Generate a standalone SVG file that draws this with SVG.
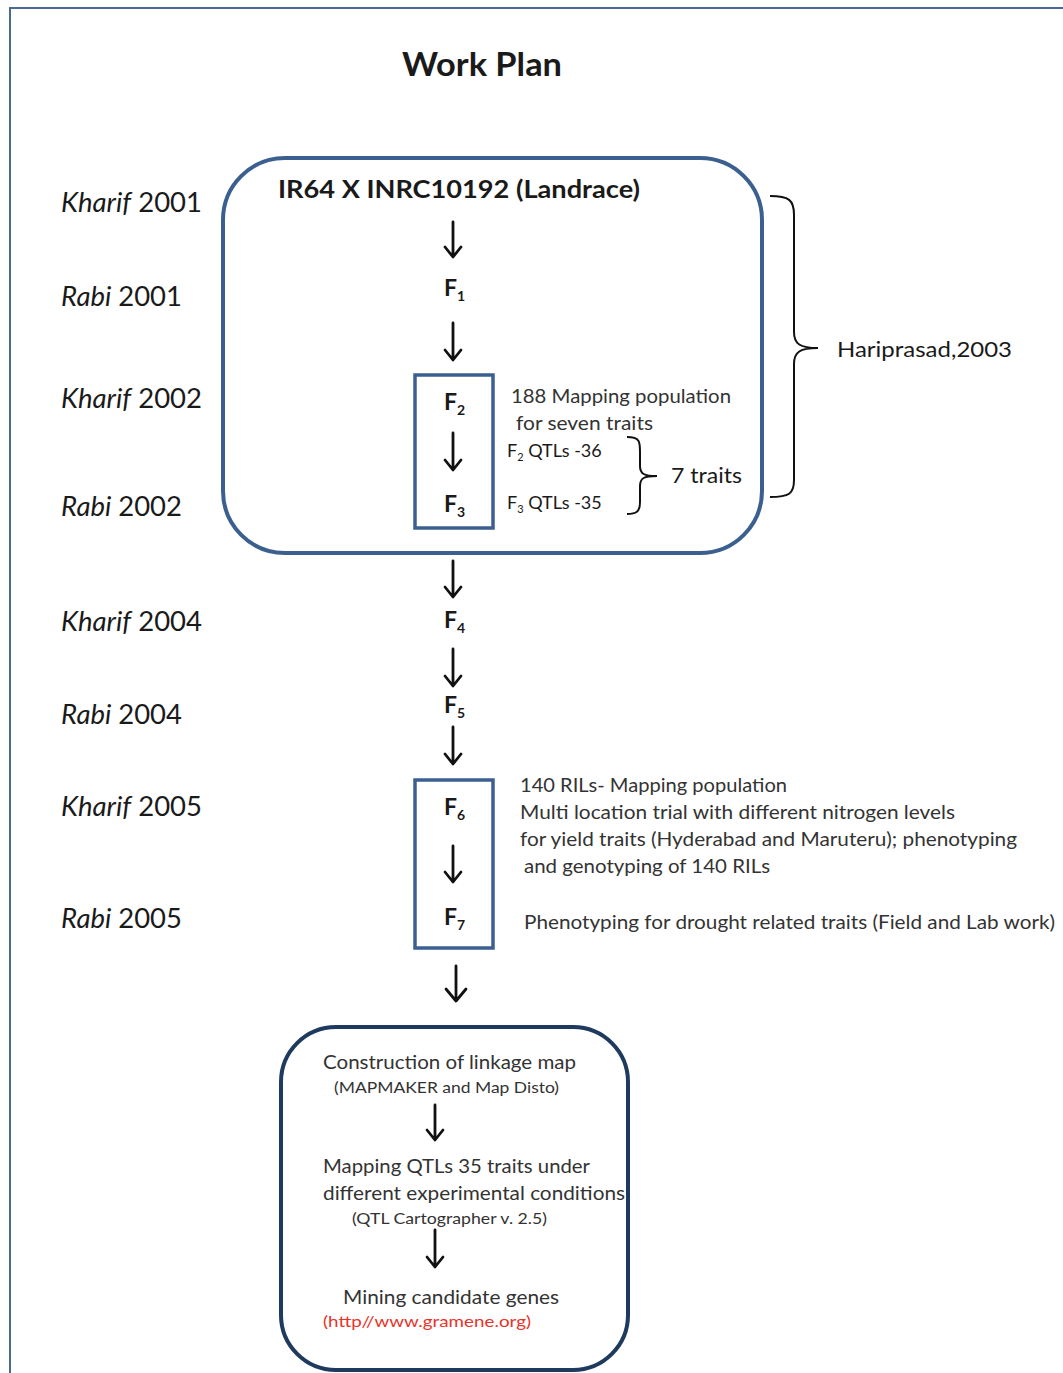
<svg xmlns="http://www.w3.org/2000/svg" width="1063" height="1373" viewBox="0 0 1063 1373">
<defs>
<style>
text{font-family:Lato,"Liberation Sans",sans-serif;fill:#1a1a1a}
.yr{font-size:27px}
.b{font-weight:bold}
.f{font-size:23px;font-weight:bold}
.s{font-size:20px;fill:#333}
.xs{font-size:16px;fill:#333}
.arr{fill:none;stroke:#111;stroke-width:2.8;stroke-linecap:round;stroke-linejoin:round}
.br{fill:none;stroke:#111;stroke-width:2}
.bx{fill:none;stroke:#3b6090;stroke-width:4}
</style>
</defs>
<rect width="1063" height="1373" fill="#fff"/>
<path d="M10 1373 V8 H1063" fill="none" stroke="#4a6a96" stroke-width="2"/>
<text x="402" y="76" font-size="32" class="b" textLength="160" lengthAdjust="spacingAndGlyphs">Work Plan</text>

<g id="years">
<text class="yr" x="61" y="212" textLength="141" lengthAdjust="spacingAndGlyphs"><tspan font-style="italic">Kharif</tspan> 2001</text>
<text class="yr" x="61" y="306" textLength="121" lengthAdjust="spacingAndGlyphs"><tspan font-style="italic">Rabi</tspan> 2001</text>
<text class="yr" x="61" y="408" textLength="141" lengthAdjust="spacingAndGlyphs"><tspan font-style="italic">Kharif</tspan> 2002</text>
<text class="yr" x="61" y="516" textLength="121" lengthAdjust="spacingAndGlyphs"><tspan font-style="italic">Rabi</tspan> 2002</text>
<text class="yr" x="61" y="631" textLength="141" lengthAdjust="spacingAndGlyphs"><tspan font-style="italic">Kharif</tspan> 2004</text>
<text class="yr" x="61" y="724" textLength="121" lengthAdjust="spacingAndGlyphs"><tspan font-style="italic">Rabi</tspan> 2004</text>
<text class="yr" x="61" y="816" textLength="141" lengthAdjust="spacingAndGlyphs"><tspan font-style="italic">Kharif</tspan> 2005</text>
<text class="yr" x="61" y="928" textLength="121" lengthAdjust="spacingAndGlyphs"><tspan font-style="italic">Rabi</tspan> 2005</text>
</g>

<g id="cross-box">
<rect class="bx" x="223" y="158" width="539" height="395" rx="62"/>
<text x="278" y="198" font-size="25" class="b" textLength="362" lengthAdjust="spacingAndGlyphs">IR64 X INRC10192 (Landrace)</text>
</g>

<g id="F1"><text class="f" x="444" y="296">F<tspan font-size="14" dy="5">1</tspan></text></g>

<g id="F2F3-box">
<rect x="415" y="375" width="78" height="153" fill="none" stroke="#3b6090" stroke-width="3.5"/>
<text class="f" x="444" y="410">F<tspan font-size="14" dy="5">2</tspan></text>
<text class="f" x="444" y="512">F<tspan font-size="14" dy="5">3</tspan></text>
</g>
<g id="F2F3-notes">
<text class="s" x="511" y="403" textLength="220" lengthAdjust="spacingAndGlyphs">188 Mapping population</text>
<text class="s" x="516" y="430" textLength="137" lengthAdjust="spacingAndGlyphs">for seven traits</text>
<text x="507" y="457" font-size="18" fill="#333">F<tspan font-size="11" dy="4">2</tspan><tspan dy="-4"> QTLs -36</tspan></text>
<text x="507" y="509" font-size="18" fill="#333">F<tspan font-size="11" dy="4">3</tspan><tspan dy="-4"> QTLs -35</tspan></text>
<text x="671" y="483" font-size="22" textLength="71" lengthAdjust="spacingAndGlyphs">7 traits</text>
</g>

<g id="Hariprasad">
<text x="837" y="357" font-size="22" textLength="175" lengthAdjust="spacingAndGlyphs">Hariprasad,2003</text>
</g>

<g id="F4"><text class="f" x="444" y="628">F<tspan font-size="14" dy="5">4</tspan></text></g>
<g id="F5"><text class="f" x="444" y="713">F<tspan font-size="14" dy="5">5</tspan></text></g>

<g id="F6F7-box">
<rect x="415" y="780" width="78" height="168" fill="none" stroke="#3b6090" stroke-width="3.5"/>
<text class="f" x="444" y="815">F<tspan font-size="14" dy="5">6</tspan></text>
<text class="f" x="444" y="925">F<tspan font-size="14" dy="5">7</tspan></text>
</g>
<g id="F6F7-notes">
<text class="s" x="520" y="792" textLength="267" lengthAdjust="spacingAndGlyphs">140 RILs- Mapping population</text>
<text class="s" x="520" y="819" textLength="435" lengthAdjust="spacingAndGlyphs">Multi location trial with different nitrogen levels</text>
<text class="s" x="520" y="846" textLength="497" lengthAdjust="spacingAndGlyphs">for yield traits (Hyderabad and Maruteru); phenotyping</text>
<text class="s" x="524" y="873" textLength="246" lengthAdjust="spacingAndGlyphs">and genotyping of 140 RILs</text>
<text class="s" x="524" y="929" textLength="531" lengthAdjust="spacingAndGlyphs">Phenotyping for drought related traits (Field and Lab work)</text>
</g>

<g id="analysis-box">
<rect x="281" y="1027" width="347" height="343" rx="55" fill="none" stroke="#1f3a5f" stroke-width="4"/>
<text class="s" x="323" y="1069" textLength="253" lengthAdjust="spacingAndGlyphs">Construction of linkage map</text>
<text class="xs" x="334" y="1093" textLength="225" lengthAdjust="spacingAndGlyphs">(MAPMAKER and Map Disto)</text>
<text class="s" x="323" y="1173" textLength="267" lengthAdjust="spacingAndGlyphs">Mapping QTLs 35 traits under</text>
<text class="s" x="323" y="1200" textLength="302" lengthAdjust="spacingAndGlyphs">different experimental conditions</text>
<text class="xs" x="352" y="1224" textLength="195" lengthAdjust="spacingAndGlyphs">(QTL Cartographer v. 2.5)</text>
<text class="s" x="343" y="1304" textLength="216" lengthAdjust="spacingAndGlyphs">Mining candidate genes</text>
<text class="xs" x="323" y="1327" style="fill:#e8332a" textLength="208" lengthAdjust="spacingAndGlyphs">(http//www.gramene.org)</text>
</g>

<g id="connectors">
<path class="arr" d="M453 222 V257 M445 247 L453 257 L461 247"/>
<path class="arr" d="M453 323 V360 M445 350 L453 360 L461 350"/>
<path class="arr" d="M453 433 V470 M445 460 L453 470 L461 460"/>
<path class="arr" d="M453 561 V597 M445 587 L453 597 L461 587"/>
<path class="arr" d="M453 649 V686 M445 676 L453 686 L461 676"/>
<path class="arr" d="M453 727 V764 M445 754 L453 764 L461 754"/>
<path class="arr" d="M453 846 V882 M445 872 L453 882 L461 872"/>
<path class="arr" d="M456 966 V1001 M446 989 L456 1001 L466 989" stroke-width="3.8"/>
<path class="arr" d="M435 1105 V1140 M427 1130 L435 1140 L443 1130"/>
<path class="arr" d="M435 1230 V1267 M427 1257 L435 1267 L443 1257"/>
<path class="br" d="M627 437 C640 437 640 442 640 452 V466 C640 474 644 476 657 476 C644 476 640 478 640 486 V502 C640 512 636 514 627 514"/>
<path class="br" d="M770 196 C789 196 794 200 794 215 V332 C794 344 800 348 818 348 C800 348 794 352 794 364 V480 C794 494 789 497 770 497"/>
</g>
</svg>
